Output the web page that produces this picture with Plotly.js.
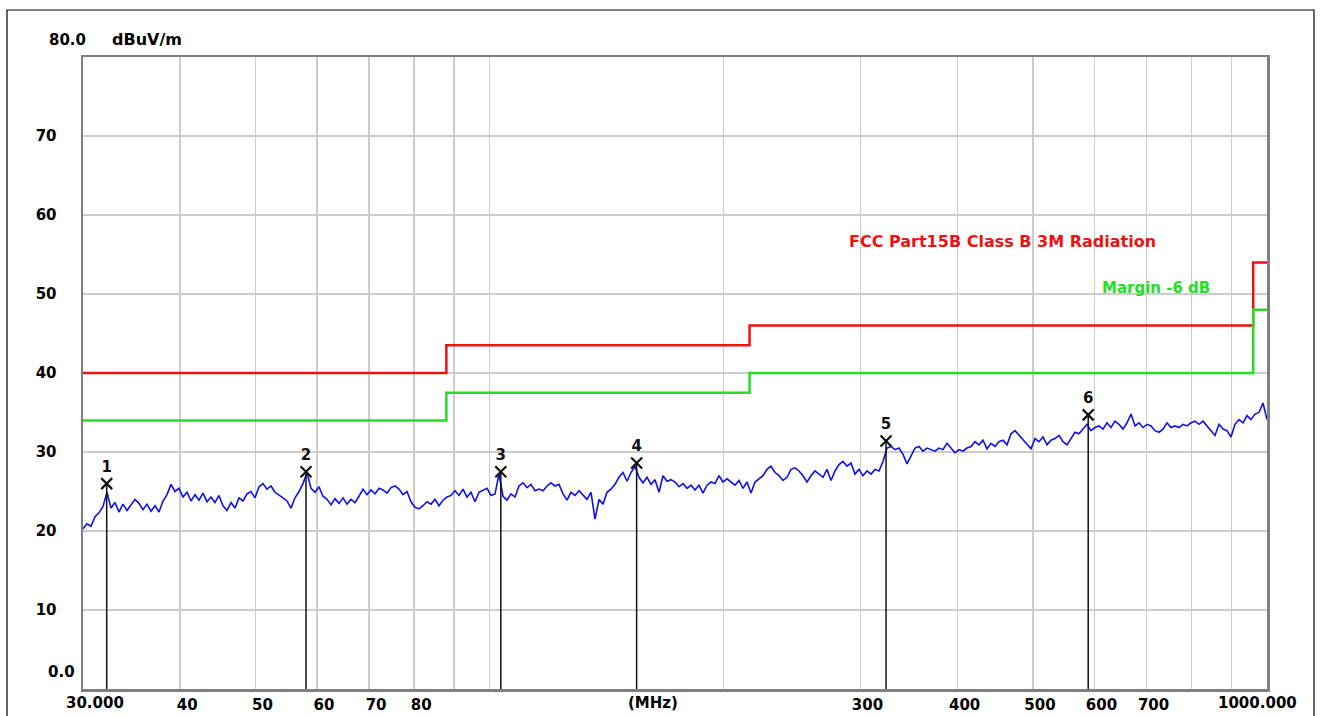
<!DOCTYPE html>
<html>
<head>
<meta charset="utf-8">
<script src="https://cdn.plot.ly/plotly-3.0.1.min.js"></script>
<style>
html,body{margin:0;padding:0;background:#fff;}
#chart{width:1321px;height:716px;}
</style>
</head>
<body>
<div id="chart"></div>
<script>
// Sweep range (MHz)
const sweepStart = 30;
const sweepStop = 1000;

const levels = [
  20.3,20.9,20.6,21.8,22.3,23.1,24.9,22.9,23.6,22.4,
  23.4,22.6,23.3,24.0,23.5,22.7,23.4,22.5,23.2,22.4,
  23.8,24.6,25.9,25.0,25.4,24.3,24.9,23.8,24.6,23.9,
  24.8,23.7,24.3,23.6,24.5,23.2,22.6,23.6,22.9,24.2,
  23.8,24.7,25.0,24.2,25.6,26.0,25.3,25.7,24.9,24.6,
  24.2,23.8,22.9,24.2,25.0,26.0,27.4,25.4,24.9,25.6,
  24.4,24.0,23.3,24.1,23.5,24.2,23.4,24.0,23.6,24.4,
  25.3,24.6,25.2,24.7,25.4,
  25.2,24.8,25.5,25.7,25.3,24.6,25.0,23.7,23.0,22.8,
  23.2,23.7,23.4,24.0,23.2,23.9,24.3,24.5,25.1,24.5,
  25.3,24.3,24.9,23.7,24.9,25.1,25.4,24.5,24.7,27.2,
  24.4,23.9,24.7,24.3,25.7,26.1,25.5,25.9,25.1,25.3,
  25.1,25.7,26.1,25.7,25.9,24.7,23.9,24.9,24.5,25.1,
  24.5,24.0,24.9,21.5,24.0,23.4,24.9,25.3,25.9,26.8,
  27.4,26.3,27.4,28.2,26.8,26.1,26.8,25.9,26.5,24.9,
  27.0,26.3,26.5,
  26.2,25.6,26.0,25.4,25.8,25.2,25.8,24.8,25.8,26.2,
  26.0,27.0,26.2,26.6,26.2,25.8,26.4,25.4,26.2,24.8,
  26.2,26.6,27.0,27.8,28.2,27.4,27.0,26.4,26.8,27.8,
  28.0,27.6,27.0,26.2,27.0,27.6,27.2,26.8,27.8,26.4,
  27.6,28.4,28.8,28.2,28.6,27.2,27.8,27.0,27.6,27.2,
  27.8,27.6,28.8,30.5,30.7,30.3,30.5,29.7,28.5,29.5,
  30.5,30.7,30.1,30.5,30.3,30.1,30.5,30.3,31.1,30.5,
  29.9,30.3,30.1,30.5,
  30.7,31.3,30.9,31.5,30.4,31.1,30.7,31.3,31.5,30.9,
  32.3,32.7,32.1,31.5,30.9,30.4,31.7,31.3,31.9,30.9,
  31.5,31.7,32.1,31.3,30.9,31.7,32.5,32.3,32.9,33.5,
  32.7,33.1,33.3,32.9,33.7,33.1,33.9,33.5,32.9,33.7,
  34.8,33.3,33.7,33.1,33.5,33.3,32.7,32.5,32.9,33.7,
  33.1,33.3,33.1,33.5,33.3,33.7,33.9,33.5,33.9,33.3,
  32.7,32.1,33.5,32.9,32.7,31.9,33.5,34.1,33.7,34.6,
  34.1,34.8,35.0,36.2,34.1
];

// Limit lines (step)
const limitFreq   = [30, 88, 88, 216, 216, 960, 960, 1000];
const limitLevel  = [40, 40, 43.5, 43.5, 46, 46, 54, 54];
const marginLevel = [34, 34, 37.5, 37.5, 40, 40, 48, 48];

// Markers
const markerNo    = ['1','2','3','4','5','6'];
const markerFreq  = [32.18, 58.07, 103.4, 154.6, 323.6, 588.9];
const markerLevel = [26.0, 27.5, 27.5, 28.6, 31.4, 34.7];

// Axis ticks
const xGrid   = [40,50,60,70,80,90,100,200,300,400,500,600,700,800,900];
const xLabels = ['40','50','60','70','80','','','','300','400','500','600','700','',''];
const yTicks  = [10,20,30,40,50,60,70];
const yLabels = ['10','20','30','40','50','60','70'];

// sweep frequency grid (log spaced)
const n = levels.length;
const freqs = levels.map((_, i) => sweepStart * Math.pow(sweepStop / sweepStart, i / (n - 1)));

// vertical marker lines
const vx = [], vy = [];
markerFreq.forEach((f, i) => { vx.push(f, f, null); vy.push(markerLevel[i], 0, null); });

const FONT = 'DejaVu Sans';

const traces = [
  {x: freqs, y: levels, type: 'scatter', mode: 'lines',
   line: {color: '#1010e8', width: 1.6}, hoverinfo: 'skip'},
  {x: limitFreq, y: limitLevel, type: 'scatter', mode: 'lines',
   line: {color: '#ee1111', width: 2.5}, hoverinfo: 'skip'},
  {x: limitFreq, y: marginLevel, type: 'scatter', mode: 'lines',
   line: {color: '#22e022', width: 2.5}, hoverinfo: 'skip'},
  {x: vx, y: vy, type: 'scatter', mode: 'lines',
   line: {color: '#111111', width: 1.5}, hoverinfo: 'skip'},
  {x: markerFreq, y: markerLevel, type: 'scatter', mode: 'markers+text',
   text: markerNo, textposition: 'top center',
   textfont: {family: FONT, size: 15, color: '#111'},
   marker: {symbol: 'x-thin', size: 11, line: {color: '#111', width: 2.2}, color: '#111'},
   hoverinfo: 'skip'}
];

const layout = {
  width: 1321, height: 716,
  margin: {l: 83, r: 54, t: 57, b: 27, pad: 0},
  paper_bgcolor: '#ffffff', plot_bgcolor: '#ffffff',
  showlegend: false,
  font: {family: FONT, size: 15, color: '#000', weight: 'bold'},
  xaxis: {
    type: 'log', range: [Math.log10(30), 3],
    tickmode: 'array', tickvals: xGrid, ticktext: xLabels,
    showgrid: true, gridcolor: '#cccccc', gridwidth: 1.5,
    zeroline: false, ticks: '',
    showline: true, linecolor: '#808080', linewidth: 2.5, mirror: true,
    tickfont: {family: FONT, size: 15, color: '#000', weight: 'bold'},
    ticklabelshift: 7, ticklabelstandoff: 0
  },
  yaxis: {
    range: [0, 80],
    tickmode: 'array', tickvals: yTicks, ticktext: yLabels,
    showgrid: true, gridcolor: '#cccccc', gridwidth: 1.5,
    zeroline: false, ticks: '',
    showline: true, linecolor: '#808080', linewidth: 2.5, mirror: true,
    tickfont: {family: FONT, size: 15, color: '#000', weight: 'bold'},
    ticklabelstandoff: 21
  },
  shapes: [
    {type: 'rect', xref: 'paper', yref: 'paper', x0: -0.0642, x1: 1.0397, y0: -0.07, y1: 1.0744,
     line: {color: '#000', width: 1.2}, fillcolor: 'rgba(0,0,0,0)', layer: 'above'}
  ],
  annotations: [
    {xref: 'paper', yref: 'paper', x: 0.0042, y: 1.0269, xanchor: 'right', yanchor: 'middle',
     text: '80.0', showarrow: false, font: {family: FONT, size: 15, color: '#000', weight: 'bold'}},
    {xref: 'paper', yref: 'paper', x: 0.0228, y: 1.0269, xanchor: 'left', yanchor: 'middle',
     text: 'dBuV/m', showarrow: false, font: {family: FONT, size: 16, color: '#000', weight: 'bold'}},
    {xref: 'paper', yref: 'paper', x: -0.0051, y: 0.0269, xanchor: 'right', yanchor: 'middle',
     text: '0.0', showarrow: false, font: {family: FONT, size: 15, color: '#000', weight: 'bold'}},
    {xref: 'paper', yref: 'paper', x: 0.0101, y: -0.0222, xanchor: 'center', yanchor: 'middle',
     text: '30.000', showarrow: false, font: {family: FONT, size: 15, color: '#000', weight: 'bold'}},
    {xref: 'paper', yref: 'paper', x: 0.4814, y: -0.0222, xanchor: 'center', yanchor: 'middle',
     text: '(MHz)', showarrow: false, font: {family: FONT, size: 15, color: '#000', weight: 'bold'}},
    {xref: 'paper', yref: 'paper', x: 0.9916, y: -0.0222, xanchor: 'center', yanchor: 'middle',
     text: '1000.000', showarrow: false, font: {family: FONT, size: 15, color: '#000', weight: 'bold'}},
    {xref: 'paper', yref: 'paper', x: 0.6453, y: 0.7073, xanchor: 'left', yanchor: 'middle',
     text: 'FCC Part15B Class B 3M Radiation', showarrow: false,
     font: {family: FONT, size: 16, color: '#ee1111', weight: 'bold'}},
    {xref: 'paper', yref: 'paper', x: 0.8590, y: 0.6345, xanchor: 'left', yanchor: 'middle',
     text: 'Margin -6 dB', showarrow: false,
     font: {family: FONT, size: 15, color: '#22e022', weight: 'bold'}}
  ]
};

Plotly.newPlot('chart', traces, layout, {displayModeBar: false, staticPlot: true});
</script>
</body>
</html>
